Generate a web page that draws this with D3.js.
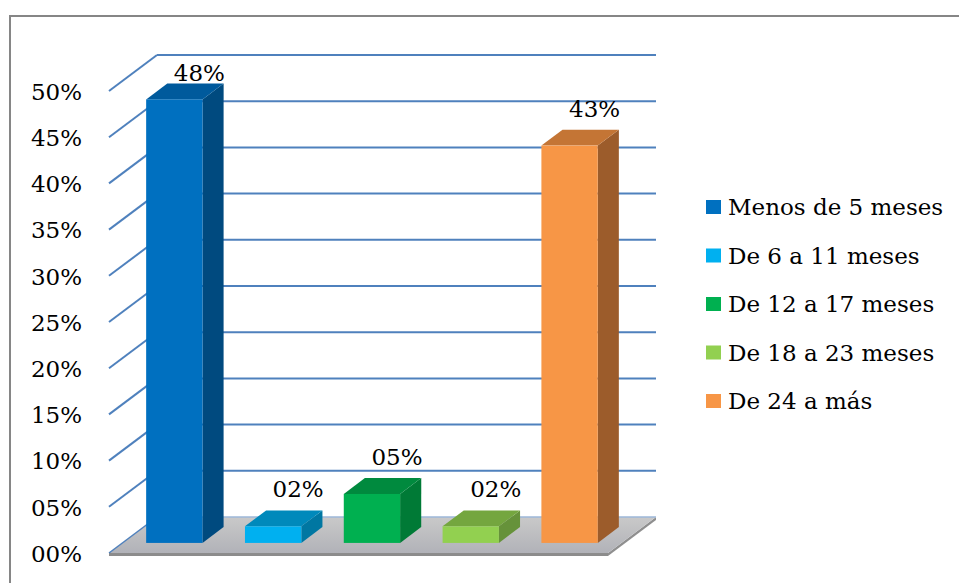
<!DOCTYPE html>
<html>
<head>
<meta charset="utf-8">
<script src="https://cdn.jsdelivr.net/npm/d3@7"></script>
<style>
  html, body { margin: 0; padding: 0; background: #fff; }
  svg { display: block; }
  .ser { font-family: "DejaVu Serif", "Liberation Serif", serif; fill: #000; }
</style>
</head>
<body>
<svg id="chart" width="959" height="583"></svg>
<script>
// ---- data ----
const categories = ["Menos de 5 meses", "De 6 a 11 meses", "De 12 a 17 meses", "De 18 a 23 meses", "De 24 a más"];
const values = [0.48, 0.018, 0.053, 0.018, 0.43];
const tickValues = [0, 0.05, 0.10, 0.15, 0.20, 0.25, 0.30, 0.35, 0.40, 0.45, 0.50];
const tickLabels = ["00%", "05%", "10%", "15%", "20%", "25%", "30%", "35%", "40%", "45%", "50%"];
const frontColors = ["#0070C0", "#00B0F0", "#00B050", "#92D050", "#F79646"];
const topColors   = ["#005a9c", "#0089bb", "#008a3e", "#74a63f", "#c47535"];
const sideColors  = ["#004a7f", "#0077a2", "#007a36", "#66923a", "#9c5c2b"];

// ---- layout ----
const FS = 23;
const svg = d3.select("#chart");
const fx0 = 109, fx1 = 608, fy0 = 553;   // front edge of floor
const DX = 48, DY = -36;                  // depth vector
const t0 = 0.28, t1 = 0.72;               // bar depth range

const x = d3.scaleBand().domain(categories).range([fx0, fx1]).paddingInner(0.43).paddingOuter(0.24);
const y = d3.scaleLinear().domain([0, 0.5]).range([fy0, 91]);

// outer border
svg.append("rect").attr("x", 10).attr("y", 16).attr("width", 1200).attr("height", 1200)
  .attr("fill", "none").attr("stroke", "#868686").attr("stroke-width", 2);

const gridColor = "#4f81bd";
// back wall gridlines
svg.append("g").selectAll("line").data(tickValues.slice(1)).join("line")
  .attr("x1", fx0 + DX).attr("x2", fx1 + DX)
  .attr("y1", d => y(d) + DY).attr("y2", d => y(d) + DY)
  .attr("stroke", gridColor).attr("stroke-width", 2);
// left wall gridlines
svg.append("g").selectAll("line").data(tickValues.slice(1)).join("line")
  .attr("x1", fx0).attr("x2", fx0 + DX)
  .attr("y1", d => y(d)).attr("y2", d => y(d) + DY)
  .attr("stroke", gridColor).attr("stroke-width", 2);

// floor
const defs = svg.append("defs");
const fg = defs.append("linearGradient").attr("id", "floorG").attr("x1", 0).attr("y1", 0).attr("x2", 0).attr("y2", 1);
fg.append("stop").attr("offset", "0%").attr("stop-color", "#c9c9c9");
fg.append("stop").attr("offset", "100%").attr("stop-color", "#b1b2b8");
const th = 3;
svg.append("polygon")
  .attr("points", [[fx0, fy0], [fx1, fy0], [fx1, fy0 + th], [fx0, fy0 + th]].join(" "))
  .attr("fill", "#8c8c8c");
svg.append("polygon")
  .attr("points", [[fx1, fy0], [fx1 + DX, fy0 + DY], [fx1 + DX, fy0 + DY + th], [fx1, fy0 + th]].join(" "))
  .attr("fill", "#8f8f8f");
svg.append("polygon")
  .attr("points", [[fx0, fy0], [fx1, fy0], [fx1 + DX, fy0 + DY], [fx0 + DX, fy0 + DY]].join(" "))
  .attr("fill", "url(#floorG)");
// floor edges (0% gridlines)
svg.append("line").attr("x1", fx0).attr("y1", y(0)).attr("x2", fx0 + DX).attr("y2", y(0) + DY)
  .attr("stroke", gridColor).attr("stroke-width", 1.5);
svg.append("line").attr("x1", fx0 + DX).attr("y1", y(0) + DY).attr("x2", fx1 + DX).attr("y2", y(0) + DY)
  .attr("stroke", "#9db7d8").attr("stroke-width", 1.5);

// bars
const bw = x.bandwidth();
const bars = svg.append("g").selectAll("g").data(categories).join("g");
bars.each(function (c, i) {
  const g = d3.select(this);
  const xl = x(c) + t0 * DX, yb = y(0) + t0 * DY, yt = y(values[i]) + t0 * DY;
  const ox = (t1 - t0) * DX, oy = (t1 - t0) * DY;
  g.append("polygon").attr("points", [[xl + bw, yb], [xl + bw + ox, yb + oy], [xl + bw + ox, yt + oy], [xl + bw, yt]].join(" "))
    .attr("fill", sideColors[i]);
  g.append("polygon").attr("points", [[xl, yt], [xl + bw, yt], [xl + bw + ox, yt + oy], [xl + ox, yt + oy]].join(" "))
    .attr("fill", topColors[i]);
  g.append("rect").attr("x", xl).attr("y", yt).attr("width", bw).attr("height", yb - yt)
    .attr("fill", frontColors[i]);
});

// value labels
const fmt = d => String(Math.round(d * 100)).padStart(2, "0") + "%";
svg.append("g").selectAll("text").data(categories).join("text")
  .attr("class", "ser")
  .attr("x", c => x(c) + t0 * DX + bw / 2 + 25)
  .attr("y", (c, i) => Math.max(81, y(values[i]) + t0 * DY - 29))
  .attr("text-anchor", "middle").attr("font-size", FS)
  .text((c, i) => fmt(values[i]));

// y axis labels
const yAxis = d3.axisLeft(y).tickValues(tickValues).tickFormat((d, i) => tickLabels[i]).tickSize(0).tickPadding(0);
const ag = svg.append("g").attr("transform", "translate(82,0)").call(yAxis);
ag.attr("font-family", null).attr("font-size", null);
ag.select(".domain").remove();
ag.selectAll("text").attr("class", "ser").attr("font-size", FS).attr("fill", "#000").attr("dy", "0.36em");

// legend
const lg = svg.append("g").selectAll("g").data(categories).join("g")
  .attr("transform", (c, i) => `translate(706, ${207 + i * 48.5})`);
lg.append("rect").attr("x", 0).attr("y", -7).attr("width", 15).attr("height", 14).attr("fill", (c, i) => frontColors[i]);
lg.append("text").attr("class", "ser").attr("x", 22).attr("y", 8).attr("font-size", FS).text(c => c);
</script>
</body>
</html>
